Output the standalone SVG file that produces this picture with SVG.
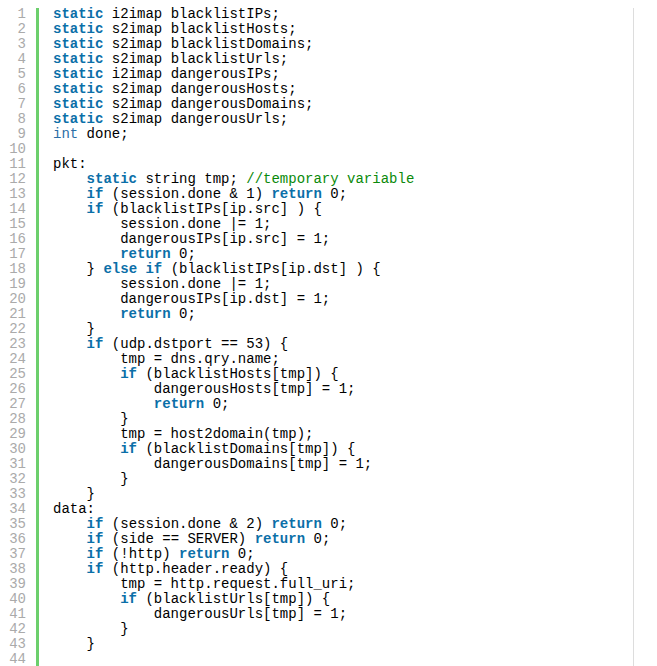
<svg xmlns="http://www.w3.org/2000/svg" width="657" height="666" viewBox="0 0 657 666">
<style>
.n{font-family:"Liberation Mono",monospace;font-size:14px;fill:#aaaaaa;text-anchor:end}
.c{font-family:"Liberation Mono",monospace;font-size:14px;fill:#000;white-space:pre}
.k{fill:#0b6fa8;font-weight:bold}
.t{fill:#2b6ea6}
.m{fill:#0a8a0a}
</style>
<rect width="657" height="666" fill="#fff"/>
<rect x="36" y="8" width="3" height="658" fill="#6ccf6c"/>
<rect x="633" y="8" width="1" height="658" fill="#dddddd"/>
<g id="numbers">
<text class="n" x="26" y="18">1</text><text class="n" x="26" y="33">2</text><text class="n" x="26" y="48">3</text><text class="n" x="26" y="63">4</text><text class="n" x="26" y="78">5</text><text class="n" x="26" y="93">6</text><text class="n" x="26" y="108">7</text><text class="n" x="26" y="123">8</text><text class="n" x="26" y="138">9</text><text class="n" x="26" y="153">10</text><text class="n" x="26" y="168">11</text><text class="n" x="26" y="183">12</text><text class="n" x="26" y="198">13</text><text class="n" x="26" y="213">14</text><text class="n" x="26" y="228">15</text><text class="n" x="26" y="243">16</text><text class="n" x="26" y="258">17</text><text class="n" x="26" y="273">18</text><text class="n" x="26" y="288">19</text><text class="n" x="26" y="303">20</text><text class="n" x="26" y="318">21</text><text class="n" x="26" y="333">22</text><text class="n" x="26" y="348">23</text><text class="n" x="26" y="363">24</text><text class="n" x="26" y="378">25</text><text class="n" x="26" y="393">26</text><text class="n" x="26" y="408">27</text><text class="n" x="26" y="423">28</text><text class="n" x="26" y="438">29</text><text class="n" x="26" y="453">30</text><text class="n" x="26" y="468">31</text><text class="n" x="26" y="483">32</text><text class="n" x="26" y="498">33</text><text class="n" x="26" y="513">34</text><text class="n" x="26" y="528">35</text><text class="n" x="26" y="543">36</text><text class="n" x="26" y="558">37</text><text class="n" x="26" y="573">38</text><text class="n" x="26" y="588">39</text><text class="n" x="26" y="603">40</text><text class="n" x="26" y="618">41</text><text class="n" x="26" y="633">42</text><text class="n" x="26" y="648">43</text><text class="n" x="26" y="663">44</text>
</g>
<g id="code">
<text class="c" x="53" y="18"><tspan class="k">static</tspan> i2imap blacklistIPs;</text>
<text class="c" x="53" y="33"><tspan class="k">static</tspan> s2imap blacklistHosts;</text>
<text class="c" x="53" y="48"><tspan class="k">static</tspan> s2imap blacklistDomains;</text>
<text class="c" x="53" y="63"><tspan class="k">static</tspan> s2imap blacklistUrls;</text>
<text class="c" x="53" y="78"><tspan class="k">static</tspan> i2imap dangerousIPs;</text>
<text class="c" x="53" y="93"><tspan class="k">static</tspan> s2imap dangerousHosts;</text>
<text class="c" x="53" y="108"><tspan class="k">static</tspan> s2imap dangerousDomains;</text>
<text class="c" x="53" y="123"><tspan class="k">static</tspan> s2imap dangerousUrls;</text>
<text class="c" x="53" y="138"><tspan class="t">int</tspan> done;</text>
<text class="c" x="53" y="168">pkt:</text>
<text class="c" x="53" y="183">    <tspan class="k">static</tspan> string tmp; <tspan class="m">//temporary variable</tspan></text>
<text class="c" x="53" y="198">    <tspan class="k">if</tspan> (session.done &amp; 1) <tspan class="k">return</tspan> 0;</text>
<text class="c" x="53" y="213">    <tspan class="k">if</tspan> (blacklistIPs[ip.src] ) {</text>
<text class="c" x="53" y="228">        session.done |= 1;</text>
<text class="c" x="53" y="243">        dangerousIPs[ip.src] = 1;</text>
<text class="c" x="53" y="258">        <tspan class="k">return</tspan> 0;</text>
<text class="c" x="53" y="273">    } <tspan class="k">else if</tspan> (blacklistIPs[ip.dst] ) {</text>
<text class="c" x="53" y="288">        session.done |= 1;</text>
<text class="c" x="53" y="303">        dangerousIPs[ip.dst] = 1;</text>
<text class="c" x="53" y="318">        <tspan class="k">return</tspan> 0;</text>
<text class="c" x="53" y="333">    }</text>
<text class="c" x="53" y="348">    <tspan class="k">if</tspan> (udp.dstport == 53) {</text>
<text class="c" x="53" y="363">        tmp = dns.qry.name;</text>
<text class="c" x="53" y="378">        <tspan class="k">if</tspan> (blacklistHosts[tmp]) {</text>
<text class="c" x="53" y="393">            dangerousHosts[tmp] = 1;</text>
<text class="c" x="53" y="408">            <tspan class="k">return</tspan> 0;</text>
<text class="c" x="53" y="423">        }</text>
<text class="c" x="53" y="438">        tmp = host2domain(tmp);</text>
<text class="c" x="53" y="453">        <tspan class="k">if</tspan> (blacklistDomains[tmp]) {</text>
<text class="c" x="53" y="468">            dangerousDomains[tmp] = 1;</text>
<text class="c" x="53" y="483">        }</text>
<text class="c" x="53" y="498">    }</text>
<text class="c" x="53" y="513">data:</text>
<text class="c" x="53" y="528">    <tspan class="k">if</tspan> (session.done &amp; 2) <tspan class="k">return</tspan> 0;</text>
<text class="c" x="53" y="543">    <tspan class="k">if</tspan> (side == SERVER) <tspan class="k">return</tspan> 0;</text>
<text class="c" x="53" y="558">    <tspan class="k">if</tspan> (!http) <tspan class="k">return</tspan> 0;</text>
<text class="c" x="53" y="573">    <tspan class="k">if</tspan> (http.header.ready) {</text>
<text class="c" x="53" y="588">        tmp = http.request.full_uri;</text>
<text class="c" x="53" y="603">        <tspan class="k">if</tspan> (blacklistUrls[tmp]) {</text>
<text class="c" x="53" y="618">            dangerousUrls[tmp] = 1;</text>
<text class="c" x="53" y="633">        }</text>
<text class="c" x="53" y="648">    }</text>
</g>
</svg>
